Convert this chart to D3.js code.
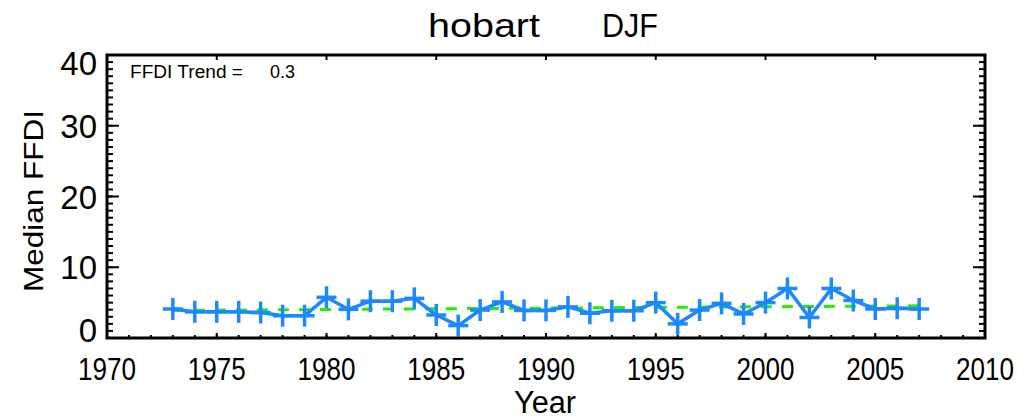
<!DOCTYPE html>
<html>
<head>
<meta charset="utf-8">
<script src="https://cdn.jsdelivr.net/npm/d3@7"></script>
<style>
  body { margin: 0; background: #fff; }
  text { font-family: "Liberation Sans", "DejaVu Sans", sans-serif; fill: #000; }
</style>
</head>
<body>
<div id="chart"></div>
<script>
// median FFDI per summer season (DJF), hobart
const years = [1973, 1974, 1975, 1976, 1977, 1978, 1979, 1980, 1981, 1982,
  1983, 1984, 1985, 1986, 1987, 1988, 1989, 1990, 1991, 1992,
  1993, 1994, 1995, 1996, 1997, 1998, 1999, 2000, 2001, 2002,
  2003, 2004, 2005, 2006, 2007];
const ffdi = [4.1, 3.7, 3.7, 3.7, 3.6, 3.15, 3.15, 5.75, 4.05, 5.2,
  5.2, 5.6, 3.25, 1.75, 3.95, 5.1, 3.9, 3.9, 4.4, 3.5,
  3.85, 3.85, 5.0, 2.0, 3.95, 4.9, 3.4, 5.0, 7.0, 2.9,
  7.0, 5.3, 4.1, 4.2, 4.1];

// fitted trend line end points
const trendYears = [1973, 2007];
const trendVals = [3.9, 4.55];

const xTicks = [1970, 1975, 1980, 1985, 1990, 1995, 2000, 2005, 2010];
const yTicks = [0, 10, 20, 30, 40];

const station = "hobart";
const season = "DJF";
const trendLabel = "FFDI Trend =";
const trendValue = "0.3";

const width = 1027, height = 419;
const margin = {top: 55, right: 42, bottom: 81, left: 107};

const svg = d3.select("#chart").append("svg")
    .attr("width", width)
    .attr("height", height);

const x = d3.scaleLinear().domain([1970, 2010]).range([margin.left, width - margin.right]);
const y = d3.scaleLinear().domain([0, 40]).range([height - margin.bottom, margin.top]);

const minorX = d3.range(1970, 2011, 1);
const minorY = d3.range(0, 41, 1);

// tick marks (inward, IDL style)
const ticks = svg.append("g").attr("stroke", "#000").attr("stroke-width", 2);
function tickLines(vals, fn) {
  vals.forEach(v => { const t = fn(v); ticks.append("line").attr("x1", t[0]).attr("y1", t[1]).attr("x2", t[2]).attr("y2", t[3]); });
}
const yBot = y(0), yTop = y(40), xL = x(1970), xR = x(2010);
tickLines(minorX, v => [x(v), yBot, x(v), yBot - 3]);
tickLines(xTicks, v => [x(v), yBot, x(v), yBot - 5]);
tickLines(xTicks, v => [x(v), yTop, x(v), yTop + 5]);
tickLines(minorY, v => [xL, y(v), xL + 6, y(v)]);
tickLines(yTicks, v => [xL, y(v), xL + 12, y(v)]);
tickLines(minorY, v => [xR, y(v), xR - 6, y(v)]);
tickLines(yTicks, v => [xR, y(v), xR - 12, y(v)]);

// frame
svg.append("rect")
    .attr("x", xL).attr("y", yTop)
    .attr("width", xR - xL).attr("height", yBot - yTop)
    .attr("fill", "none").attr("stroke", "#000").attr("stroke-width", 3);

// tick labels (tall narrow glyphs like the IDL font)
svg.append("g").selectAll("text").data(xTicks).join("text")
    .attr("x", d => x(d)).attr("y", yBot + 42)
    .attr("text-anchor", "middle").attr("font-size", 31)
    .attr("textLength", 58).attr("lengthAdjust", "spacingAndGlyphs")
    .text(d => d);

// end labels are kept inside the frame
svg.append("g").selectAll("text").data(yTicks).join("text")
    .attr("x", xL - 10)
    .attr("y", d => y(d) + 12 + (d === 0 ? -8 : d === 40 ? 8 : 0))
    .attr("text-anchor", "end").attr("font-size", 33)
    .text(d => d);

// titles
svg.append("text").attr("x", 484).attr("y", 37)
    .attr("text-anchor", "middle").attr("font-size", 33)
    .attr("textLength", 112).attr("lengthAdjust", "spacingAndGlyphs")
    .text(station);
svg.append("text").attr("x", 630).attr("y", 37)
    .attr("text-anchor", "middle").attr("font-size", 33)
    .attr("textLength", 56).attr("lengthAdjust", "spacingAndGlyphs")
    .text(season);

svg.append("text").attr("x", 545).attr("y", 413)
    .attr("text-anchor", "middle").attr("font-size", 31)
    .attr("textLength", 62).attr("lengthAdjust", "spacingAndGlyphs")
    .text("Year");

svg.append("text")
    .attr("transform", "translate(43,201) rotate(-90)")
    .attr("text-anchor", "middle").attr("font-size", 28)
    .attr("textLength", 182).attr("lengthAdjust", "spacingAndGlyphs")
    .text("Median FFDI");

svg.append("text").attr("x", 130).attr("y", 78).attr("font-size", 18)
    .attr("textLength", 113).attr("lengthAdjust", "spacingAndGlyphs")
    .text(trendLabel);
svg.append("text").attr("x", 270).attr("y", 78).attr("font-size", 18).text(trendValue);

// trend line
const line = d3.line().x(d => x(d[0])).y(d => y(d[1]));
svg.append("path")
    .datum(trendYears.map((yr, i) => [yr, trendVals[i]]))
    .attr("d", line)
    .attr("fill", "none").attr("stroke", "#22ee00")
    .attr("stroke-width", 3).attr("stroke-dasharray", "11,10");

// data line + plus markers
const pts = years.map((yr, i) => [yr, ffdi[i]]);
svg.append("path")
    .datum(pts)
    .attr("d", line)
    .attr("fill", "none").attr("stroke", "#1e88ff")
    .attr("stroke-width", 3.5);

const plus = svg.append("g").attr("stroke", "#1e88ff").attr("stroke-width", 3.5);
pts.forEach(p => {
  const cx = x(p[0]), cy = y(p[1]);
  plus.append("line").attr("x1", cx - 10).attr("x2", cx + 10).attr("y1", cy).attr("y2", cy);
  plus.append("line").attr("x1", cx).attr("x2", cx).attr("y1", cy - 11).attr("y2", cy + 11);
});
</script>
</body>
</html>
